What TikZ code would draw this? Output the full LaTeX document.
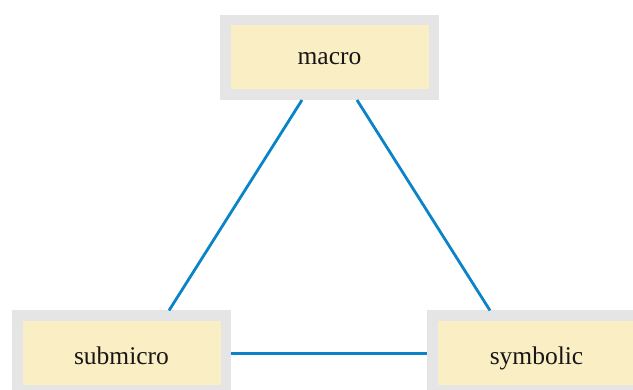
\documentclass[tikz,border=0pt]{standalone}
\usepackage{fontspec}
\setmainfont{Liberation Serif}
\usetikzlibrary{calc}
\definecolor{boxgray}{RGB}{229,229,230}
\definecolor{boxfill}{RGB}{250,238,197}
\definecolor{linkblue}{RGB}{10,132,199}
\definecolor{txt}{RGB}{25,22,22}
\begin{document}
\begin{tikzpicture}[x=1pt,y=-1pt,
  cbox/.style={draw=boxgray,fill=boxfill,line width=10.5pt,minimum width=208.5pt,minimum height=74.5pt,inner sep=0pt,text=txt,font=\fontsize{25.5}{30}\selectfont},
  link/.style={draw=linkblue,line width=2.8pt}]
\useasboundingbox (0,0) rectangle (633,390);
\node[cbox,text height=15pt,text depth=0pt] (macro) at (329.5,57.5) {macro};
\node[cbox,text height=24pt,text depth=0pt] (submicro) at (121.5,353) {submicro};
\node[cbox,text height=24pt,text depth=0pt] (symbolic) at (536.5,353) {symbolic};
\draw[link] ([xshift=-27.5pt]macro.south) -- ([xshift=47.5pt]submicro.north);
\draw[link] ([xshift=27.5pt]macro.south) -- ([xshift=-46.5pt]symbolic.north);
\draw[link,line width=3pt] ([yshift=-0.5pt]submicro.east) -- ([yshift=-0.5pt]symbolic.west);
\end{tikzpicture}
\end{document}
